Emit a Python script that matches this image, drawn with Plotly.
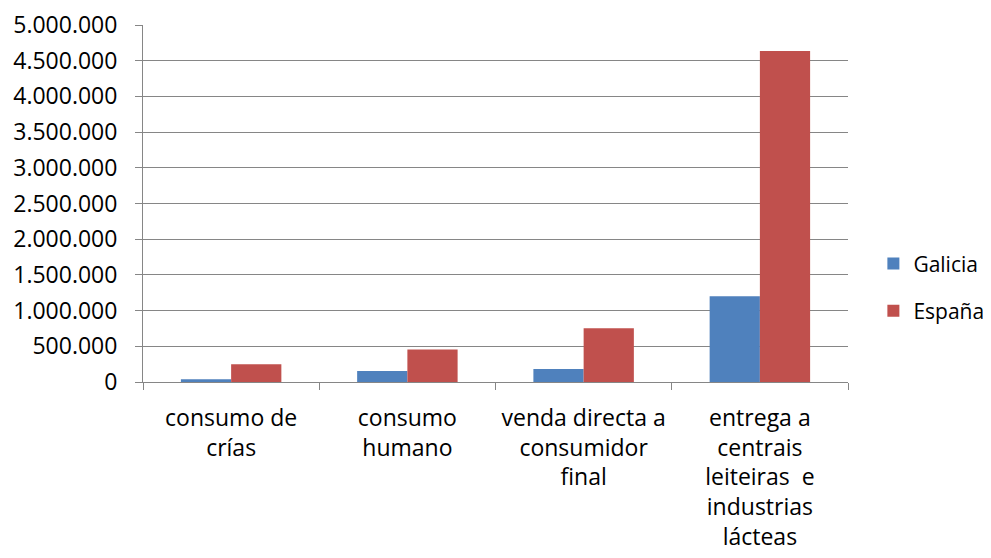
import plotly.graph_objects as go

categories = ["consumo de<br>crías", "consumo<br>humano", "venda directa a<br>consumidor<br>final",
              "entrega a<br>centrais<br>leiteiras  e<br>industrias<br>lácteas"]
galicia = [40000, 155000, 182000, 1200000]
espana = [250000, 455000, 752000, 4637000]
y_ticks = [0, 500000, 1000000, 1500000, 2000000, 2500000, 3000000, 3500000, 4000000, 4500000, 5000000]

FONT = "Open Sans"
GRID = "#868686"
FS = 23

fig = go.Figure()
fig.add_trace(go.Bar(name="Galicia", x=categories, y=galicia, marker_color="#4F81BD",
                     marker_line_width=0, legendgroup="g"))
fig.add_trace(go.Bar(name="España", x=categories, y=espana, marker_color="#C0504D",
                     marker_line_width=0, legendgroup="e"))

fig.update_layout(
    width=983, height=550,
    margin=dict(l=135, r=143, t=17, b=176, autoexpand=False),
    paper_bgcolor="white", plot_bgcolor="white",
    separators=",.",
    barmode="group", bargap=0.43, bargroupgap=0,
    font=dict(family=FONT, size=FS, color="#000000"),
    legend=dict(x=1.036, y=0.265, xanchor="left", yanchor="middle",
                font=dict(family=FONT, size=21), traceorder="grouped",
                tracegroupgap=17, itemwidth=30, bgcolor="rgba(0,0,0,0)"),
    showlegend=True,
)
fig.update_xaxes(showline=True, linecolor=GRID, linewidth=1, ticks="outside",
                 tickson="boundaries", ticklen=7, tickcolor=GRID, showgrid=False,
                 tickfont=dict(family=FONT, size=FS), tickangle=0, ticklabelstandoff=15)
fig.update_yaxes(range=[0, 5000000], tickvals=y_ticks, tickformat=",d",
                 showline=True, linecolor=GRID, linewidth=1, ticks="outside",
                 ticklen=7, tickcolor=GRID, showgrid=True, gridcolor=GRID,
                 gridwidth=1, zeroline=False, tickfont=dict(family=FONT, size=FS),
                 ticklabelstandoff=13, ticklabeloverflow="allow")

fig.write_html("out.html")
